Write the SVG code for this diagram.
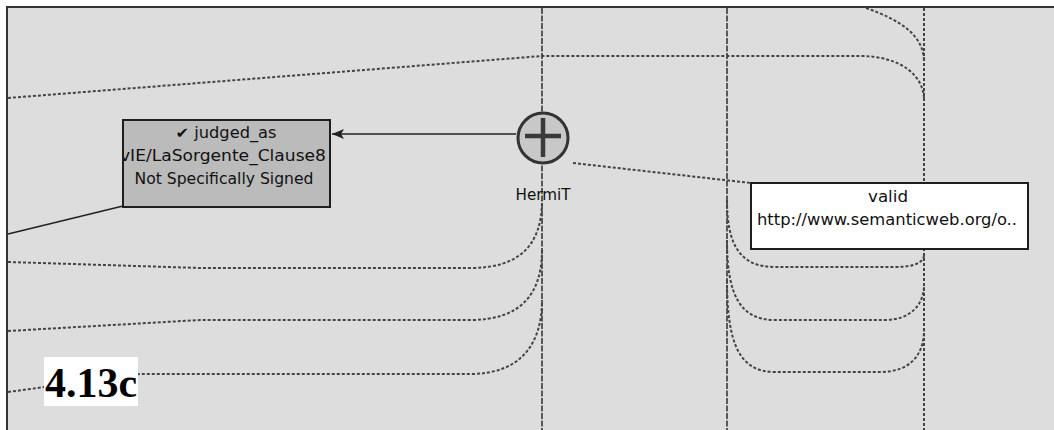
<svg xmlns="http://www.w3.org/2000/svg" width="1054" height="430" viewBox="0 0 1054 430">
<defs>
<style>
.dot{fill:none;stroke:#444;stroke-width:2;stroke-dasharray:3 2}
.vline{fill:none;stroke:#222;stroke-width:1.4;stroke-dasharray:6 1.5}
.lbl{font-family:"DejaVu Sans Condensed","DejaVu Sans","Liberation Sans",sans-serif;font-size:15px;fill:#111;text-anchor:middle}
.box{stroke:#1e1e1e;stroke-width:2}
</style>
<marker id="arr" viewBox="0 0 12 10" refX="12" refY="5" markerWidth="12" markerHeight="10" markerUnits="userSpaceOnUse" orient="auto">
<path d="M0,0 L12,5 L0,10 L3,5 Z" fill="#222"/>
</marker>
<clipPath id="clipJ"><rect x="124" y="121" width="205" height="85"/></clipPath>
</defs>
<rect x="0" y="0" width="1054" height="430" fill="#ffffff"/>
<rect x="7" y="7" width="1047" height="423" fill="#dddddd"/>
<path d="M7,430 L7,7 L1054,7" fill="none" stroke="#333" stroke-width="2"/>
<g id="connectors">
<line class="vline" x1="542" y1="8" x2="542" y2="430"/>
<line class="vline" x1="727" y1="8" x2="727" y2="430"/>
<line class="dot" x1="924" y1="8" x2="924" y2="430"/>
<path class="dot" d="M8,98 L542,56 L860,56 C900,56 924,75 924,100"/>
<path class="dot" d="M866,8 C900,20 924,35 924,62"/>
<path class="dot" d="M8,262 L200,268 L470,268 C520,268 542,245 542,200"/>
<path class="dot" d="M8,331 L200,320 L470,320 C520,320 542,295 542,250"/>
<path class="dot" d="M8,392 L140,374 L470,374 C520,374 542,345 542,300"/>
<path class="dot" d="M727,200 C727,245 740,267 775,267 L895,267 C915,267 924,262 924,255"/>
<path class="dot" d="M727,240 C727,295 740,320 775,320 L885,320 C910,320 924,305 924,285"/>
<path class="dot" d="M727,280 C727,345 740,372 775,372 L880,372 C910,372 924,355 924,330"/>
<line class="dot" x1="573" y1="163" x2="751" y2="183"/>
<line x1="516" y1="134" x2="332" y2="134" stroke="#222" stroke-width="1.6" marker-end="url(#arr)"/>
<line x1="8" y1="234" x2="123" y2="206" stroke="#222" stroke-width="1.6"/>
</g>
<g id="node-judged">
<rect class="box" x="123" y="120" width="207" height="87" fill="#bbbbbb"/>
<g clip-path="url(#clipJ)">
<text class="lbl" x="226" y="138" textLength="101" lengthAdjust="spacingAndGlyphs">✔ judged_as</text>
<text class="lbl" x="223" y="161" textLength="206" lengthAdjust="spacingAndGlyphs">vIE/LaSorgente_Clause8</text>
<text class="lbl" x="224" y="184" textLength="179" lengthAdjust="spacingAndGlyphs">Not Specifically Signed</text>
</g>
</g>
<g id="node-hermit">
<circle cx="543" cy="138" r="25" fill="#c8c8c8" stroke="#333" stroke-width="3"/>
<path d="M525,136 L561,136 M543,118 L543,157" stroke="#3a3a3a" stroke-width="4.5"/>
<text class="lbl" x="543" y="200" textLength="55" lengthAdjust="spacingAndGlyphs">HermiT</text>
</g>
<g id="node-valid">
<rect class="box" x="751" y="183" width="277" height="66" fill="#ffffff"/>
<text class="lbl" x="888" y="202" textLength="40" lengthAdjust="spacingAndGlyphs">valid</text>
<text class="lbl" x="887" y="225" textLength="260" lengthAdjust="spacingAndGlyphs">http://www.semanticweb.org/o..</text>
</g>
<g id="label">
<rect x="44" y="357" width="94" height="49" fill="#ffffff"/>
<text x="91" y="397" font-family="Liberation Serif, serif" font-weight="bold" font-size="42" text-anchor="middle" fill="#000">4.13c</text>
</g>
</svg>
